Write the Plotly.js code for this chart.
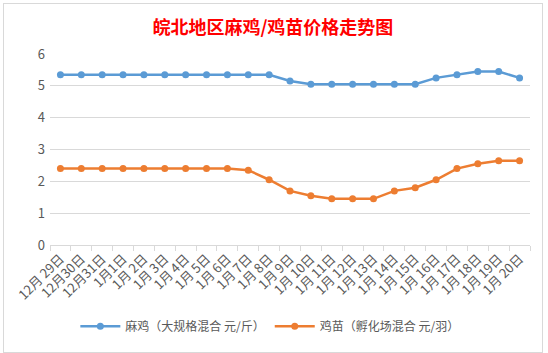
<!DOCTYPE html>
<html><head><meta charset="utf-8">
<script src="https://cdn.plot.ly/plotly-3.0.1.min.js"></script>
<style>
html,body{margin:0;padding:0;background:#fff;}
#wrap{position:relative;width:548px;height:353px;}
#chart{position:absolute;left:0;top:0;width:548px;height:353px;}
#frame{position:absolute;left:3px;top:3px;width:540px;height:350px;border:1px solid #d9d9d9;box-sizing:border-box;pointer-events:none;}
</style></head>
<body><div id="wrap"><div id="chart"></div><div id="frame"></div></div>
<script>
const categories = ["12月 29日","12月30日","12月31日","1月1日","1月 2日","1月 3日","1月 4日","1月 5日","1月 6日","1月 7日","1月 8日","1月 9日","1月 10日","1月 11日","1月 12日","1月 13日","1月 14日","1月 15日","1月 16日","1月 17日","1月 18日","1月 19日","1月 20日"];
const chickenPrice = [5.35,5.35,5.35,5.35,5.35,5.35,5.35,5.35,5.35,5.35,5.35,5.15,5.05,5.05,5.05,5.05,5.05,5.05,5.25,5.35,5.45,5.45,5.25];
const chickPrice = [2.4,2.4,2.4,2.4,2.4,2.4,2.4,2.4,2.4,2.35,2.05,1.7,1.55,1.45,1.45,1.45,1.7,1.8,2.05,2.4,2.55,2.65,2.65];
const seriesNames = ["麻鸡（大规格混合 元/斤）","鸡苗（孵化场混合 元/羽）"];
const yTicks = [0,1,2,3,4,5,6];

const font = "Noto Sans CJK SC, sans-serif";
const traces = [
  {x: categories, y: chickenPrice, name: seriesNames[0], type: "scatter", mode: "lines+markers",
   line: {color: "#5B9BD5", width: 2.5}, marker: {color: "#5B9BD5", size: 7}},
  {x: categories, y: chickPrice, name: seriesNames[1], type: "scatter", mode: "lines+markers",
   line: {color: "#ED7D31", width: 2.5}, marker: {color: "#ED7D31", size: 7}}
];
const layout = {
  width: 548, height: 353,
  margin: {l: 50, r: 18, t: 54, b: 104},
  paper_bgcolor: "#fff", plot_bgcolor: "#fff",
  font: {family: font, color: "#595959", size: 12},
  title: {text: "<b>皖北地区麻鸡/鸡苗价格走势图</b>", x: 0.498, xanchor: "center", y: 0.922, yanchor: "middle",
          font: {family: font, size: 18, color: "#FF0000"}},
  xaxis: {type: "category", range: [-0.5, categories.length - 0.5], tickangle: -45, showline: true, linecolor: "#d9d9d9", linewidth: 1,
          ticks: "outside", ticklen: 5, tickcolor: "#d9d9d9", tickson: "boundaries", automargin: false,
          showgrid: false, tickfont: {size: 13, color: "#595959"}, fixedrange: true},
  yaxis: {range: [0, 6], tickvals: yTicks, showgrid: true, gridcolor: "#d9d9d9", gridwidth: 1, automargin: false,
          zeroline: false, showline: false, ticks: "", ticklabelstandoff: 4, tickfont: {size: 13, color: "#595959"}, fixedrange: true},
  legend: {orientation: "h", x: 0.458, xanchor: "center", y: -0.425, yanchor: "middle",
           font: {size: 12, color: "#595959"}, itemwidth: 40},
  showlegend: true
};
Plotly.newPlot("chart", traces, layout, {displayModeBar: false, staticPlot: true});
</script></body></html>
